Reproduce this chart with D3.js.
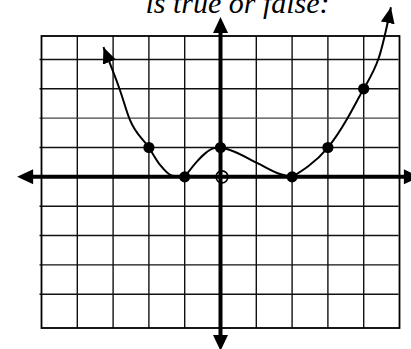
<!DOCTYPE html>
<html>
<head>
<meta charset="utf-8">
<script src="https://cdn.jsdelivr.net/npm/d3@7/dist/d3.min.js"></script>
<style>
    html, body { margin: 0; padding: 0; background: #fff; }
    svg { display: block; }
</style>
</head>
<body>
<div id="chart"></div>
<script>
'use strict';

// data
var title = 'is true or false:';

var xTicks = [-4, -3, -2, -1, 1, 2, 3, 4],
    yTicks = [-4, -3, -2, -1, 1, 2, 3, 4];

var gridX = [-5, 5],
    gridY = [-5.15, 4.8];

var axisX = [-5.68, 5.57],
    axisY = [-5.93, 5.45];

// left branch, from the arrow tip down to (-1, 0)
var branchLeft = [[-3.27, 4.42], [-2.81, 2.96], [-2.53, 1.94], [-2, 1], [-1.69, 0.41], [-1.35, 0.04], [-1, 0]];
// hump from (-1, 0) to (0, 1)
var branchHump = [[-1, 0], [-0.66, 0.52], [-0.42, 0.81], [-0.2, 0.97], [0, 1]];
// nearly straight piece from (0, 1) to (2, 0)
var branchDown = [[0, 1], [0.3, 0.9], [1.03, 0.47], [1.68, 0.09], [2, 0]];
// right branch, from (2, 0) up to the arrow tip
var branchRight = [[2, 0], [2.45, 0.36], [3, 1], [3.53, 1.96], [4, 3], [4.42, 4.05], [4.76, 5.78]];

var closedDots = [[-2, 1], [-1, 0], [0, 1], [2, 0], [3, 1], [4, 3]],
    openDots = [[0, 0]];

var W = 411, H = 349;
var svg, x, y;

function setup(){
    svg = d3.select('#chart').append('svg')
        .attr('width', W)
        .attr('height', H);

    x = d3.scaleLinear().domain(gridX).range([41.5, 399.5]);
    y = d3.scaleLinear().domain(gridY).range([328, 36]);

    var defs = svg.append('defs');
    defs.append('marker')
        .attr('id', 'tip')
        .attr('viewBox', '-16 -7 16 14')
        .attr('refX', 0)
        .attr('refY', 0)
        .attr('markerWidth', 16)
        .attr('markerHeight', 14)
        .attr('markerUnits', 'userSpaceOnUse')
        .attr('orient', 'auto-start-reverse')
        .append('path')
        .attr('d', 'M0,0L-16,-7L-16,7Z')
        .style('fill', '#000');

    draw();
}

function arrowHead(tx, ty, dir, len, half){
    // dir: unit vector the tip points to
    var bx = tx - dir[0] * len, by = ty - dir[1] * len;
    var px = -dir[1] * half, py = dir[0] * half;
    return 'M' + tx + ',' + ty + 'L' + (bx + px) + ',' + (by + py) + 'L' + (bx - px) + ',' + (by - py) + 'Z';
}

function draw(){
    var gGrid = svg.append('g'),
        gAxis = svg.append('g'),
        gCurve = svg.append('g'),
        gDots = svg.append('g');

    // title, cut off at the top
    svg.append('text')
        .attr('x', 237.5)
        .attr('y', 13)
        .attr('text-anchor', 'middle')
        .style('font-family', '"Liberation Serif", "Times New Roman", serif')
        .style('font-style', 'italic')
        .style('font-size', '30px')
        .text(title);

    // grid
    gGrid.selectAll('.vline').data(xTicks).enter().append('line')
        .attr('class', 'vline')
        .attr('x1', function(d){ return x(d); })
        .attr('x2', function(d){ return x(d); })
        .attr('y1', y(gridY[1]))
        .attr('y2', y(gridY[0]))
        .style('stroke', '#111')
        .style('stroke-width', 1.4);

    gGrid.selectAll('.hline').data(yTicks).enter().append('line')
        .attr('class', 'hline')
        .attr('x1', x(gridX[0]) - 2)
        .attr('x2', x(gridX[1]) - 1)
        .attr('y1', function(d){ return y(d); })
        .attr('y2', function(d){ return y(d); })
        .style('stroke', function(d){ return d === 2 ? '#444' : '#111'; })
        .style('stroke-width', 1.4);

    gGrid.append('rect')
        .attr('x', x(gridX[0]))
        .attr('y', y(gridY[1]))
        .attr('width', x(gridX[1]) - x(gridX[0]))
        .attr('height', y(gridY[0]) - y(gridY[1]))
        .style('fill', 'none')
        .style('stroke', '#000')
        .style('stroke-width', 1.8);

    // axes
    var head = 16, half = 7.5;
    gAxis.append('line')
        .attr('x1', x(axisX[0]) + head - 2).attr('x2', x(axisX[1]) - head + 2)
        .attr('y1', y(0)).attr('y2', y(0))
        .style('stroke', '#000')
        .style('stroke-width', 4);
    gAxis.append('line')
        .attr('x1', x(0)).attr('x2', x(0))
        .attr('y1', y(axisY[1]) + head - 2).attr('y2', y(axisY[0]) - head + 2)
        .style('stroke', '#000')
        .style('stroke-width', 4);

    var heads = [
        [x(axisX[0]), y(0), [-1, 0]],
        [x(axisX[1]), y(0), [1, 0]],
        [x(0), y(axisY[1]), [0, -1]],
        [x(0), y(axisY[0]), [0, 1]]
    ];
    gAxis.selectAll('.head').data(heads).enter().append('path')
        .attr('class', 'head')
        .attr('d', function(d){ return arrowHead(d[0], d[1], d[2], head, half); })
        .style('fill', '#000');

    // curve
    var line = d3.line()
        .x(function(d){ return x(d[0]); })
        .y(function(d){ return y(d[1]); });

    var pieces = [
        {pts: branchLeft, curve: d3.curveMonotoneX, start: true, end: false},
        {pts: branchHump, curve: d3.curveMonotoneX, start: false, end: false},
        {pts: branchDown, curve: d3.curveMonotoneX, start: false, end: false},
        {pts: branchRight, curve: d3.curveNatural, start: false, end: true}
    ];
    gCurve.selectAll('.piece').data(pieces).enter().append('path')
        .attr('class', 'piece')
        .attr('d', function(d){ return line.curve(d.curve)(d.pts); })
        .attr('marker-start', function(d){ return d.start ? 'url(#tip)' : null; })
        .attr('marker-end', function(d){ return d.end ? 'url(#tip)' : null; })
        .style('fill', 'none')
        .style('stroke', '#000')
        .style('stroke-width', 2);

    // points
    gDots.selectAll('.dot').data(closedDots).enter().append('circle')
        .attr('class', 'dot')
        .attr('cx', function(d){ return x(d[0]); })
        .attr('cy', function(d){ return y(d[1]); })
        .attr('r', 5.6)
        .style('fill', '#000');

    gDots.selectAll('.open').data(openDots).enter().append('circle')
        .attr('class', 'open')
        .attr('cx', function(d){ return x(d[0]) + 1.5; })
        .attr('cy', function(d){ return y(d[1]); })
        .attr('r', 6)
        .style('fill', 'none')
        .style('stroke', '#000')
        .style('stroke-width', 1.6);
}

setup();
</script>
</body>
</html>
